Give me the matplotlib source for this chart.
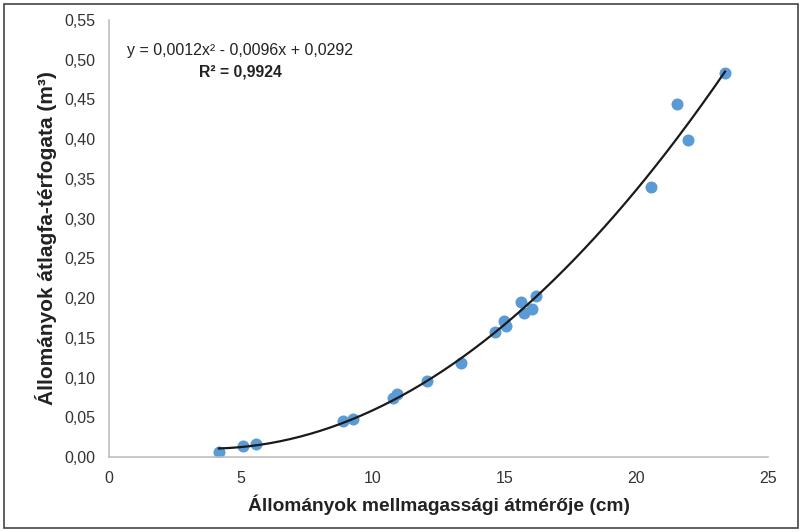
import numpy as np
import matplotlib.pyplot as plt
from matplotlib.patches import Rectangle

# átmérő (cm) és átlagfa-térfogat (m3), leolvasva az ábráról
dbh = [4.17, 5.08, 5.58, 8.88, 9.26, 10.77, 10.93, 12.06, 13.35, 14.64,
       14.98, 15.05, 15.63, 15.74, 16.05, 16.20, 20.56, 21.55, 21.96, 23.37]
vol = [0.006, 0.014, 0.016, 0.045, 0.048, 0.074, 0.079, 0.096, 0.118, 0.157,
       0.171, 0.165, 0.195, 0.181, 0.186, 0.203, 0.340, 0.444, 0.399, 0.483]

x_ticks = [0, 5, 10, 15, 20, 25]
y_ticks = [i * 0.05 for i in range(12)]

eq_text = 'y = 0,0012x² - 0,0096x + 0,0292'
r2_text = 'R² = 0,9924'
xlab = 'Állományok mellmagassági átmérője (cm)'
ylab = 'Állományok átlagfa-térfogata (m³)'

plt.rcParams['font.family'] = ['Liberation Sans', 'DejaVu Sans']

fig = plt.figure(figsize=(8.02, 5.32), dpi=100)
ax = fig.add_axes([109/802, 75/532, 659/802, 437/532])

ax.scatter(dbh, vol, s=75, color='#5B9BD5', zorder=2, linewidths=0)

# másodfokú trendvonal
coef = np.polyfit(dbh, vol, 2)
xs = np.linspace(min(dbh), max(dbh), 200)
ax.plot(xs, np.polyval(coef, xs), color='#1a1a1a', lw=1.6, zorder=3)

ax.set_xlim(0, 25)
ax.set_ylim(0, 0.55)
ax.set_xticks(x_ticks)
ax.set_yticks(y_ticks)
ax.set_xticklabels([str(t) for t in x_ticks], fontsize=11.5, color='#333333')
ax.set_yticklabels([('%.2f' % t).replace('.', ',') for t in y_ticks],
                   fontsize=11.5, color='#333333')
ax.tick_params(length=0, pad=10)
for s in ['top', 'right']:
    ax.spines[s].set_visible(False)
for s in ['left', 'bottom']:
    ax.spines[s].set_color('#bfbfbf')
    ax.spines[s].set_linewidth(1.2)

ax.set_xlabel(xlab, fontsize=13.8, fontweight='bold', color='#222222', labelpad=6)
ax.set_ylabel(ylab, fontsize=15, fontweight='bold', color='#222222', labelpad=5)

fig.text(127/802, 1 - 50/532, eq_text, fontsize=11.5, va='center', ha='left', color='#222222')
fig.text(240/802, 1 - 72/532, r2_text, fontsize=11.3, fontweight='bold', va='center', ha='center', color='#222222')

fig.patches.append(Rectangle((4/802, 4/532), 794/802, 524/532, transform=fig.transFigure,
                             fill=False, edgecolor='#444444', lw=1.2))

fig.savefig('out.png', dpi=100)
